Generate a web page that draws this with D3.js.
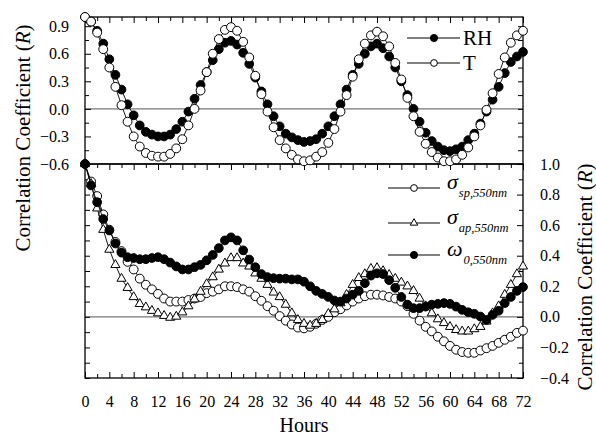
<!DOCTYPE html>
<html>
<head>
<meta charset="utf-8">
<script src="https://cdnjs.cloudflare.com/ajax/libs/d3/7.8.5/d3.min.js"></script>
<style>
  body { margin: 0; background: #fff; }
  svg, svg text { font-family: "Liberation Serif", "Times New Roman", serif !important; fill: #000; }
  .axis path.domain { display: none; }
  .axis line { stroke: #000; stroke-width: 1; }
  .axis text { font-size: 16px; }
</style>
</head>
<body>
<div id="chart"></div>
<script>

// hours since start (x axis), one point every hour
var hours = d3.range(0, 73);

// top panel
var rh = [1.0, 0.95, 0.85, 0.71, 0.54, 0.37, 0.21, 0.05, -0.07, -0.18, -0.25, -0.28, -0.30, -0.30, -0.28, -0.22,
  -0.14, -0.03, 0.11, 0.26, 0.40, 0.53, 0.65, 0.72, 0.74, 0.70, 0.61, 0.49, 0.34, 0.19, 0.05, -0.08,
  -0.19, -0.27, -0.31, -0.34, -0.36, -0.35, -0.33, -0.27, -0.19, -0.08, 0.05, 0.21, 0.37, 0.49, 0.60, 0.68,
  0.71, 0.66, 0.57, 0.45, 0.30, 0.15, 0.0, -0.14, -0.26, -0.35, -0.41, -0.45, -0.46, -0.44, -0.41, -0.34,
  -0.27, -0.16, -0.03, 0.10, 0.24, 0.39, 0.51, 0.57, 0.62];
var temp = [1.0, 0.95, 0.83, 0.65, 0.45, 0.24, 0.04, -0.14, -0.30, -0.41, -0.48, -0.51, -0.52, -0.52, -0.49, -0.43,
  -0.33, -0.18, 0.0, 0.20, 0.40, 0.60, 0.76, 0.86, 0.89, 0.85, 0.73, 0.56, 0.36, 0.16, -0.03, -0.20,
  -0.34, -0.43, -0.50, -0.55, -0.57, -0.56, -0.52, -0.47, -0.37, -0.22, -0.03, 0.15, 0.35, 0.54, 0.71, 0.80,
  0.84, 0.79, 0.68, 0.50, 0.32, 0.12, -0.08, -0.25, -0.38, -0.47, -0.53, -0.57, -0.57, -0.55, -0.50, -0.42,
  -0.30, -0.18, -0.01, 0.17, 0.38, 0.56, 0.72, 0.80, 0.85];

// bottom panel
var sigmaSp = [1.0, 0.885, 0.79, 0.67, 0.57, 0.49, 0.43, 0.36, 0.31, 0.25, 0.21, 0.18, 0.15, 0.12, 0.10, 0.10,
  0.10, 0.11, 0.12, 0.13, 0.155, 0.165, 0.18, 0.20, 0.20, 0.195, 0.18, 0.165, 0.135, 0.105, 0.07, 0.04,
  0.005, -0.025, -0.05, -0.07, -0.075, -0.065, -0.045, -0.02, 0.0, 0.03, 0.05, 0.075, 0.10, 0.12, 0.135, 0.145,
  0.145, 0.14, 0.13, 0.12, 0.10, 0.07, 0.02, -0.025, -0.065, -0.095, -0.13, -0.16, -0.19, -0.215, -0.23, -0.235,
  -0.235, -0.22, -0.205, -0.19, -0.17, -0.15, -0.13, -0.105, -0.09];
var sigmaAp = [1.0, 0.87, 0.71, 0.57, 0.44, 0.34, 0.25, 0.19, 0.13, 0.085, 0.063, 0.04, 0.024, 0.007, -0.005, 0.002,
  0.03, 0.07, 0.115, 0.165, 0.215, 0.26, 0.31, 0.35, 0.385, 0.385, 0.35, 0.33, 0.285, 0.25, 0.21, 0.16,
  0.13, 0.08, 0.024, -0.02, -0.045, -0.057, -0.045, -0.02, 0.02, 0.05, 0.09, 0.145, 0.21, 0.255, 0.28, 0.315,
  0.32, 0.30, 0.275, 0.25, 0.225, 0.20, 0.17, 0.12, 0.07, 0.024, -0.015, -0.04, -0.065, -0.085, -0.095, -0.095,
  -0.08, -0.065, -0.03, 0.024, 0.07, 0.145, 0.21, 0.28, 0.33];
var omega = [1.0, 0.86, 0.75, 0.64, 0.565, 0.48, 0.42, 0.39, 0.385, 0.377, 0.377, 0.385, 0.39, 0.377, 0.355, 0.33,
  0.31, 0.31, 0.325, 0.34, 0.37, 0.405, 0.45, 0.50, 0.52, 0.50, 0.435, 0.375, 0.325, 0.28, 0.26, 0.253,
  0.25, 0.25, 0.245, 0.245, 0.23, 0.20, 0.17, 0.15, 0.13, 0.107, 0.10, 0.12, 0.145, 0.17, 0.22, 0.27,
  0.285, 0.28, 0.24, 0.19, 0.13, 0.08, 0.057, 0.057, 0.067, 0.08, 0.085, 0.09, 0.085, 0.067, 0.046, 0.03,
  0.02, 0.002, -0.02, 0.013, 0.04, 0.09, 0.13, 0.17, 0.195];

var hourTicks = d3.range(0, 73, 4);
var hourMinor = d3.range(2, 72, 4);
var topTicks = [-0.6, -0.3, 0.0, 0.3, 0.6, 0.9];
var topMinor = [-0.45, -0.15, 0.15, 0.45, 0.75];
var bottomTicks = [-0.4, -0.2, 0.0, 0.2, 0.4, 0.6, 0.8, 1.0];
var bottomMinor = [-0.3, -0.1, 0.1, 0.3, 0.5, 0.7, 0.9];

var W = 596, H = 435;
var padL = 85, padR = 523, padT = 17, padM = 164, padB = 378;
var serif = '"Liberation Serif", "Times New Roman", serif';

var svg = d3.select('#chart').append('svg')
    .attr('width', W)
    .attr('height', H)
    .attr('font-family', serif);

var x = d3.scaleLinear().domain([0, 72]).range([padL, padR]);
var yTop = d3.scaleLinear().domain([-0.6, 1.0]).range([padM, padT]);
var yBot = d3.scaleLinear().domain([-0.4, 1.0]).range([padB, padM]);

var fmt = d3.format('.1f');

function axis(gen, tx, ty) {
  svg.append('g')
      .attr('class', 'axis')
      .attr('transform', 'translate(' + tx + ',' + ty + ')')
      .call(gen)
      .attr('font-family', serif)
      .attr('font-size', 16);
}

// zero lines
svg.append('line').attr('x1', padL).attr('x2', padR)
    .attr('y1', yTop(0)).attr('y2', yTop(0))
    .attr('stroke', '#777').attr('stroke-width', 1.2);
svg.append('line').attr('x1', padL).attr('x2', padR)
    .attr('y1', yBot(0)).attr('y2', yBot(0))
    .attr('stroke', '#777').attr('stroke-width', 1.2);

// x ticks: top edge, divider, bottom edge
axis(d3.axisTop(x).tickValues(hourTicks).tickSize(-6).tickSizeOuter(0).tickFormat(''), 0, padT);
axis(d3.axisTop(x).tickValues(hourMinor).tickSize(-4).tickSizeOuter(0).tickFormat(''), 0, padT);
axis(d3.axisTop(x).tickValues(hourTicks).tickSize(-6).tickSizeOuter(0).tickFormat(''), 0, padM);
axis(d3.axisTop(x).tickValues(hourMinor).tickSize(-4).tickSizeOuter(0).tickFormat(''), 0, padM);
axis(d3.axisBottom(x).tickValues(hourTicks).tickSize(-6).tickSizeOuter(0).tickPadding(18), 0, padB);
axis(d3.axisBottom(x).tickValues(hourMinor).tickSize(-4).tickSizeOuter(0).tickFormat(''), 0, padB);

// top panel y ticks
axis(d3.axisLeft(yTop).tickValues(topTicks).tickSize(-6).tickSizeOuter(0).tickPadding(16).tickFormat(fmt), padL, 0);
axis(d3.axisLeft(yTop).tickValues(topMinor).tickSize(-4).tickSizeOuter(0).tickFormat(''), padL, 0);
axis(d3.axisRight(yTop).tickValues(topTicks.concat(topMinor)).tickSize(-5).tickSizeOuter(0).tickFormat(''), padR, 0);

// bottom panel y ticks
axis(d3.axisLeft(yBot).tickValues(bottomTicks.concat(bottomMinor)).tickSize(-5).tickSizeOuter(0).tickFormat(''), padL, 0);
axis(d3.axisRight(yBot).tickValues(bottomTicks).tickSize(-6).tickSizeOuter(0).tickPadding(17).tickFormat(fmt), padR, 0);
axis(d3.axisRight(yBot).tickValues(bottomMinor).tickSize(-4).tickSizeOuter(0).tickFormat(''), padR, 0);

// frames
svg.append('rect').attr('x', padL).attr('y', padT).attr('width', padR - padL).attr('height', padM - padT)
    .attr('fill', 'none').attr('stroke', '#000').attr('stroke-width', 1.3);
svg.append('rect').attr('x', padL).attr('y', padM).attr('width', padR - padL).attr('height', padB - padM)
    .attr('fill', 'none').attr('stroke', '#000').attr('stroke-width', 1.3);

function series(values, y, shape, fill, size) {
  var pts = hours.map(function(h, i) { return [h, values[i]]; });
  var line = d3.line()
      .x(function(d) { return x(d[0]); })
      .y(function(d) { return y(d[1]); });
  svg.append('path')
      .datum(pts)
      .attr('d', line)
      .attr('fill', 'none')
      .attr('stroke', '#000')
      .attr('stroke-width', 0.9);
  svg.append('g').selectAll('path')
      .data(pts)
      .join('path')
      .attr('transform', function(d) { return 'translate(' + x(d[0]) + ',' + y(d[1]) + ')'; })
      .attr('d', d3.symbol().type(shape).size(size))
      .attr('fill', fill)
      .attr('stroke', '#000')
      .attr('stroke-width', 1);
}

series(rh, yTop, d3.symbolCircle, '#000', 60);
series(temp, yTop, d3.symbolCircle, '#fff', 62);
series(sigmaSp, yBot, d3.symbolCircle, '#fff', 62);
series(sigmaAp, yBot, d3.symbolTriangle, '#fff', 36);
series(omega, yBot, d3.symbolCircle, '#000', 60);

// legends
function legendRow(ly, shape, fill, size, x1, x2, xm) {
  svg.append('line').attr('x1', x1).attr('x2', x2).attr('y1', ly).attr('y2', ly)
      .attr('stroke', '#000').attr('stroke-width', 1);
  svg.append('path')
      .attr('transform', 'translate(' + xm + ',' + ly + ')')
      .attr('d', d3.symbol().type(shape).size(size))
      .attr('fill', fill)
      .attr('stroke', '#000')
      .attr('stroke-width', 1);
}

legendRow(38, d3.symbolCircle, '#000', 40, 407, 460, 434);
legendRow(63, d3.symbolCircle, '#fff', 36, 407, 460, 434);
svg.append('text').attr('x', 463).attr('y', 45).style('font-size', '21px').text('RH');
svg.append('text').attr('x', 463).attr('y', 70).style('font-size', '21px').text('T');

var bottomLegend = [
  {y: 188, shape: d3.symbolCircle, fill: '#fff', size: 36, sym: '\u03c3', sub: 'sp,550nm'},
  {y: 223, shape: d3.symbolTriangle, fill: '#fff', size: 24, sym: '\u03c3', sub: 'ap,550nm'},
  {y: 255, shape: d3.symbolCircle, fill: '#000', size: 40, sym: '\u03c9', sub: '0,550nm'}
];
bottomLegend.forEach(function(d) {
  legendRow(d.y, d.shape, d.fill, d.size, 388, 440, 414);
  var t = svg.append('text').attr('x', 447).attr('y', d.y + 1)
      .style('font-style', 'italic').style('font-size', '22px');
  t.append('tspan').text(d.sym);
  t.append('tspan').attr('dx', 1).attr('dy', 8).style('font-size', '12.5px').text(d.sub);
});

// axis titles
function yTitle(cx, cy) {
  var t = svg.append('text')
      .attr('transform', 'translate(' + cx + ',' + cy + ') rotate(-90)')
      .attr('text-anchor', 'middle')
      .attr('dy', '0.35em')
      .style('font-size', '21px');
  t.append('tspan').text('Correlation Coefficient (');
  t.append('tspan').style('font-style', 'italic').text('R');
  t.append('tspan').text(')');
}
yTitle(23, 138);
yTitle(585, 277);

svg.append('text')
    .attr('x', (padL + padR) / 2)
    .attr('y', 432)
    .attr('text-anchor', 'middle')
    .style('font-size', '20px')
    .text('Hours');

</script>
</body>
</html>
